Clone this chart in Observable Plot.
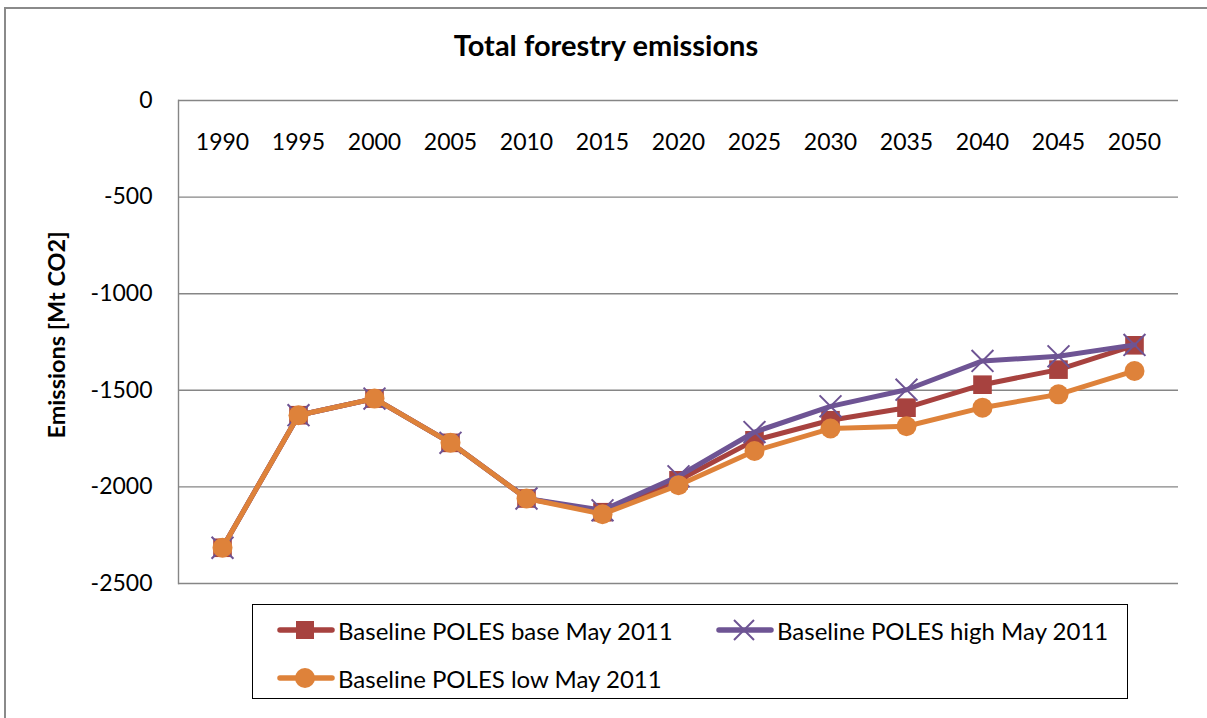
<!DOCTYPE html>
<html>
<head>
<meta charset="utf-8">
<script src="https://cdn.jsdelivr.net/npm/d3@7"></script>
<script src="https://cdn.jsdelivr.net/npm/@observablehq/plot@0.6"></script>
<style>
  body { margin: 0; background: #fff; font-family: Lato, "Open Sans", sans-serif; }
  #wrap { position: relative; width: 1207px; height: 718px; overflow: hidden; }
  #outer { position: absolute; left: 4px; top: 7px; width: 1220px; height: 730px; border: 2px solid #8a8a8a; box-sizing: border-box; }
  #title { position: absolute; left: 0; width: 1212px; top: 27px; text-align: center; font-weight: bold; font-size: 29px; color: #000; }
  #ylabel { position: absolute; left: 56px; top: 335px; transform: translate(-50%, -50%) rotate(-90deg); white-space: nowrap; font-weight: bold; font-size: 23.5px; color: #000; }
  #legend { position: absolute; left: 252px; top: 604px; width: 876px; height: 95px; border: 1.5px solid #000; box-sizing: border-box; }
  .item { position: absolute; display: flex; align-items: center; font-size: 24px; color: #000; white-space: nowrap; }
  #chart { position: absolute; left: 0; top: 0; }
</style>
</head>
<body>
<div id="wrap">
  <div id="outer"></div>
  <div id="chart"></div>
  <div id="title">Total forestry emissions</div>
  <div id="ylabel">Emissions [Mt CO2]</div>
  <div id="legend"></div>
</div>
<script>
const years = ["1990","1995","2000","2005","2010","2015","2020","2025","2030","2035","2040","2045","2050"];
const baseValues = [-2315,-1629,-1543,-1772,-2060,-2131,-1966,-1759,-1655,-1590,-1471,-1393,-1267];
const highValues = [-2315,-1629,-1543,-1772,-2060,-2121,-1945,-1716,-1583,-1497,-1348,-1324,-1265];
const lowValues  = [-2315,-1629,-1543,-1772,-2060,-2141,-1991,-1814,-1698,-1686,-1590,-1521,-1400];
const seriesNames = ["Baseline POLES base May 2011","Baseline POLES high May 2011","Baseline POLES low May 2011"];
const seriesColors = ["#A7423F","#6E5494","#DE823A"];
const yTicks = [0,-500,-1000,-1500,-2000,-2500];

const mk = (vals) => years.map((y, i) => ({year: y, value: vals[i]}));
const base = mk(baseValues), high = mk(highValues), low = mk(lowValues);

const chart = Plot.plot({
  width: 1207,
  height: 718,
  marginLeft: 178,
  marginRight: 29,
  marginTop: 100,
  marginBottom: 135,
  style: {fontFamily: "Lato, 'Open Sans', sans-serif", fontSize: "23px", color: "#000", background: "transparent"},
  x: {type: "point", domain: years, padding: 0.5, axis: null},
  y: {domain: [-2500, 0], axis: null},
  marks: [
    Plot.gridY(yTicks, {stroke: "#868686", strokeOpacity: 1, strokeWidth: 1.4}),
    Plot.frame({anchor: "left", stroke: "#868686", strokeWidth: 1.4}),
    Plot.axisY(yTicks, {tickSize: 0, tickPadding: 26, fontSize: 23, label: null, tickFormat: d => String(d)}),
    Plot.text(years, {x: d => d, frameAnchor: "top", dy: 33, fontSize: 23, fill: "#000"}),
    Plot.line(base, {x: "year", y: "value", stroke: seriesColors[0], strokeWidth: 5}),
    Plot.dot(base, {x: "year", y: "value", symbol: "square", r: 10.5, fill: seriesColors[0]}),
    Plot.line(high, {x: "year", y: "value", stroke: seriesColors[1], strokeWidth: 5}),
    Plot.dot(high, {x: "year", y: "value", symbol: "times", r: 10, stroke: seriesColors[1], strokeWidth: 2}),
    Plot.line(low, {x: "year", y: "value", stroke: seriesColors[2], strokeWidth: 5}),
    Plot.dot(low, {x: "year", y: "value", symbol: "circle", r: 10, fill: seriesColors[2]})
  ]
});
document.getElementById("chart").appendChild(chart);

// Legend
const legend = document.getElementById("legend");
const legendPos = [{left: 24, top: 7}, {left: 463, top: 7}, {left: 24, top: 55}];
const symbolSvg = (i) => {
  const c = seriesColors[i];
  let m;
  if (i === 0) m = `<rect x="19" y="9" width="18" height="18" fill="${c}"/>`;
  else if (i === 1) m = `<path d="M18,8 L38,28 M38,8 L18,28" stroke="${c}" stroke-width="2"/>`;
  else m = `<circle cx="28" cy="18" r="10" fill="${c}"/>`;
  return `<svg width="58" height="36" style="display:block"><line x1="3" x2="55" y1="18" y2="18" stroke="${c}" stroke-width="5.5" stroke-linecap="round"/>${m}</svg>`;
};
seriesNames.forEach((name, i) => {
  const d = document.createElement("div");
  d.className = "item";
  d.style.left = legendPos[i].left + "px";
  d.style.top = legendPos[i].top + "px";
  d.innerHTML = symbolSvg(i) + `<span style="margin-left:3px">${name}</span>`;
  legend.appendChild(d);
});
</script>
</body>
</html>
